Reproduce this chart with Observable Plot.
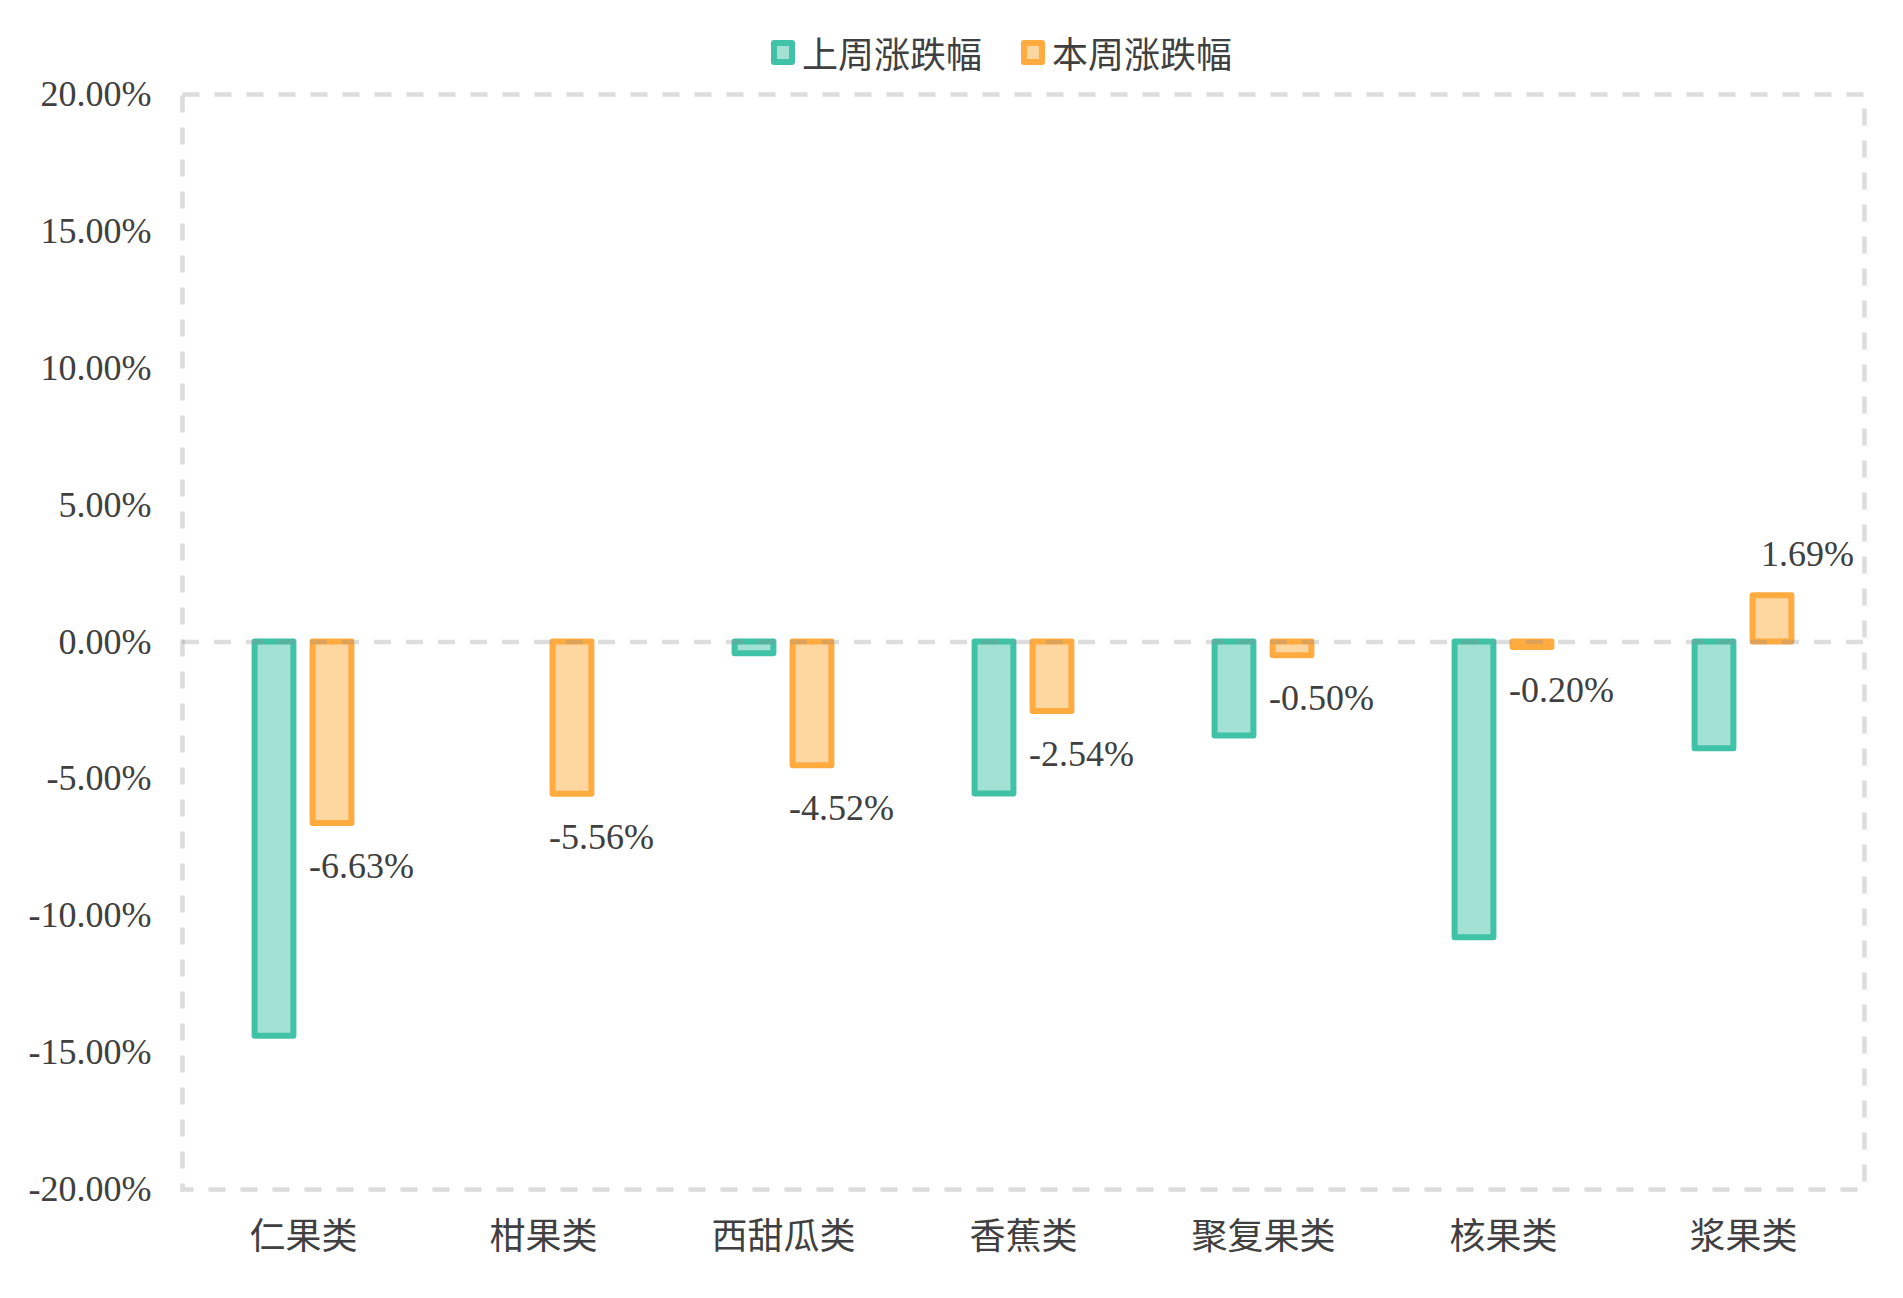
<!DOCTYPE html>
<html>
<head>
<meta charset="utf-8">
<script src="https://cdn.jsdelivr.net/npm/d3@7"></script>
<script src="https://cdn.jsdelivr.net/npm/@observablehq/plot@0.6"></script>
<style>
  html, body { margin: 0; padding: 0; background: #fff; }
  #wrap { position: relative; width: 1903px; height: 1298px; }
  #legend { position: absolute; top: 30px; left: 771px; display: flex; align-items: center; height: 44px;
    font-family: "Liberation Serif", "Noto Sans CJK SC", serif; font-size: 36px; color: #404040; }
  .sw { width: 24px; height: 25px; box-sizing: border-box; border: 6px solid; border-radius: 3px; margin-right: 7px; }
  .item { display: flex; align-items: center; margin-right: 39px; }
</style>
</head>
<body>
<div id="wrap">
  <div id="legend"></div>
  <div id="chart"></div>
</div>
<script>
const categories = ["仁果类", "柑果类", "西甜瓜类", "香蕉类", "聚复果类", "核果类", "浆果类"];
const seriesNames = ["上周涨跌幅", "本周涨跌幅"];
const lastWeek = [-14.4, null, -0.43, -5.55, -3.43, -10.8, -3.9];
const thisWeek = [-6.63, -5.56, -4.52, -2.54, -0.50, -0.20, 1.69];
const yTicks = [-20, -15, -10, -5, 0, 5, 10, 15, 20];

const strokeColors = ["#40c2a6", "#ffab40"];
const fillColors = ["#a3e1d4", "#fed6a0"];

const lastData = categories.map((c, i) => ({category: c, value: lastWeek[i]})).filter(d => d.value != null);
const thisData = categories.map((c, i) => ({category: c, value: thisWeek[i]})).filter(d => d.value != null);

const fmt = v => v.toFixed(2) + "%";
const inset = 100.6;

const chart = Plot.plot({
  width: 1903,
  height: 1298,
  marginTop: 94,
  marginBottom: 109,
  marginLeft: 182,
  marginRight: 39,
  style: {fontFamily: '"Liberation Serif", "Noto Sans CJK SC", serif', fontSize: "36px", color: "#404040", background: "white"},
  x: {domain: categories, padding: 0, label: null, tickSize: 0, tickPadding: 34},
  y: {domain: [-20, 20], ticks: yTicks, tickFormat: fmt, label: null, tickSize: 0, tickPadding: 31},
  marks: [
    Plot.frame({stroke: "#dcdcdc", strokeWidth: 4.5, strokeDasharray: "17,15"}),
    Plot.barY(lastData, {x: "category", y: "value", fill: fillColors[0], stroke: strokeColors[0], strokeWidth: 6,
      strokeLinejoin: "round", insetLeft: inset, insetRight: inset, dx: -29}),
    Plot.barY(thisData, {x: "category", y: "value", fill: fillColors[1], stroke: strokeColors[1], strokeWidth: 6,
      strokeLinejoin: "round", insetLeft: inset, insetRight: inset, dx: 29}),
    Plot.ruleY([0], {stroke: "#909090", strokeOpacity: 0.3, strokeWidth: 4.5, strokeDasharray: "17,15"}),
    Plot.text(thisData.filter(d => d.value < 0), {x: "category", y: "value", text: d => fmt(d.value), dx: 58, dy: 43, fill: "#404040"}),
    Plot.text(thisData.filter(d => d.value >= 0), {x: "category", y: "value", text: d => fmt(d.value), dx: 64, dy: -41, fill: "#404040"})
  ]
});
document.getElementById("chart").appendChild(chart);

const legend = document.getElementById("legend");
seriesNames.forEach((name, i) => {
  const item = document.createElement("div");
  item.className = "item";
  const sw = document.createElement("div");
  sw.className = "sw";
  sw.style.borderColor = strokeColors[i];
  sw.style.background = fillColors[i];
  const t = document.createElement("span");
  t.textContent = name;
  item.appendChild(sw);
  item.appendChild(t);
  legend.appendChild(item);
});
</script>
</body>
</html>
